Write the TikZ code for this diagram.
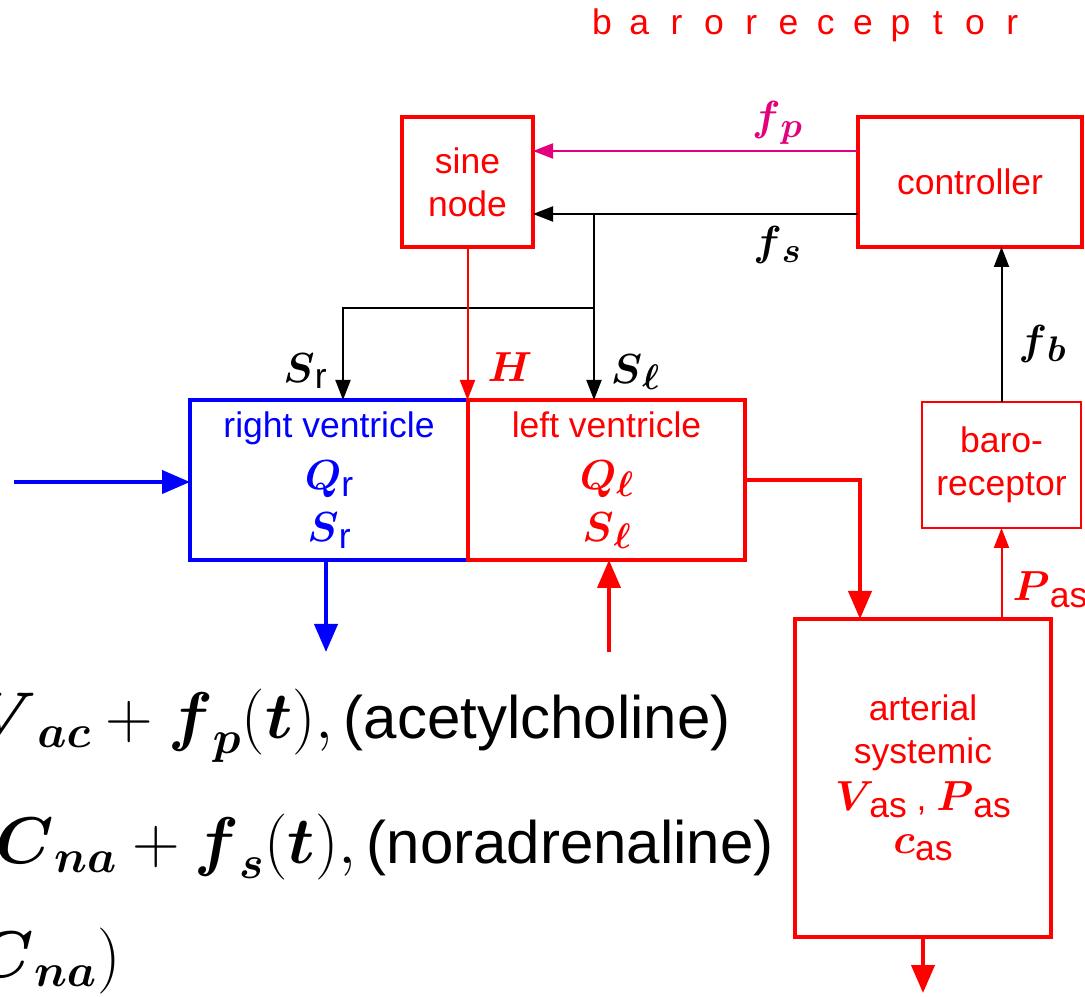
\RequirePackage{fix-cm}
\documentclass[tikz,border=0pt]{standalone}
\usepackage{amsmath}
\usepackage[no-math]{fontspec}
\setmainfont{Liberation Sans}
\usepackage{tikz}
\usetikzlibrary{arrows.meta,positioning}
\definecolor{oxy}{HTML}{FF0000}
\definecolor{venous}{HTML}{0000FF}
\definecolor{vagal}{HTML}{E4007C}
\newcommand{\labelfont}{\fontsize{17.75}{21.5}\selectfont}
\newcommand{\vsym}[2]{{\fontsize{21}{24}\selectfont$\boldsymbol{#1}$}\raisebox{-0.35ex}{#2}}
\newcommand{\eqmath}[1]{{\fontsize{33}{36}\selectfont$#1$}}
\tikzset{
  >={Triangle[length=10pt,width=7.5pt]},
  signal/.style={->,line width=1pt},
  flow/.style={-{Triangle[length=14pt,width=11.5pt]},line width=2pt},
  box/.style={draw=oxy,line width=2pt,text=oxy,inner sep=0pt,outer sep=0pt,
    align=center,font=\labelfont},
  thinbox/.style={box,line width=1pt},
  venbox/.style={box,draw=venous,text=venous},
  tag/.style={font=\labelfont},
  eqline/.style={inner sep=0pt,font=\fontsize{30}{34}\selectfont}
}

\begin{document}
\begin{tikzpicture}[x=0.5pt,y=0.5pt,node distance=0pt]
  \clip (0,0) rectangle (1085,996);
  \node[box,minimum width=65.5pt,minimum height=65pt] (sine) at (467.5,814) {sine\\node};
  \node[box,minimum width=112pt,minimum height=65pt] (ctrl) at (970,814) {controller};
  \node[venbox,minimum width=139pt,minimum height=80pt,font=\fontsize{17.75}{26}\selectfont] (rv) at (329,516)
    {right ventricle\\\vsym{Q}{r}\\\vsym{S}{r}};
  \node[box,minimum width=138.5pt,minimum height=80pt,font=\fontsize{17.75}{26}\selectfont,right=of rv] (lv)
    {left ventricle\\\vsym{Q}{$\boldsymbol{\ell}$}\\\vsym{S}{$\boldsymbol{\ell}$}};
  \node[thinbox,minimum width=79.5pt,minimum height=63pt] (baro) at (1001.5,531) {baro-\\receptor};
  \node[box,minimum width=128pt,minimum height=159pt] (art) at (923,218)
    {arterial\\systemic\\[2pt]\vsym{V}{\hspace{-2.5pt}as} , \vsym{P}{as}\\\vsym{c}{as}};

  \foreach \ch [count=\i] in {b,a,r,o,r,e,c,e,p,t,o,r}
    \node[tag,text=oxy,anchor=base,inner sep=0pt] (top\i) at ({602+37.3*(\i-1)},961) {\ch};

  \node[tag,text=vagal] (fplab) at (777,873) {\vsym{f}{$\boldsymbol{p}$}};
  \node[tag] (fslab) at (777,751) {\vsym{f}{$\boldsymbol{s}$}};
  \node[tag,text=oxy] (hlab) at (510,626) {\vsym{H}{}};
  \node[tag] (sllab) at (635,624) {\vsym{S}{$\boldsymbol{\ell}$}};
  \node[tag] (srlab) at (305,625) {\vsym{S}{r}};
  \node[tag] (fblab) at (1042,652) {\vsym{f}{$\boldsymbol{b}$}};
  \node[tag,text=oxy,inner sep=0pt] (paslab) at (1050,406) {\vsym{P}{as}};

  \coordinate (fork) at (594,782);
  \coordinate (split) at (594,688);
  \coordinate (venin) at (14,514);
  \coordinate (venout) at (326,344);
  \coordinate (pulmin) at (609,344);
  \coordinate (artout) at (923,3);

  \draw[signal,draw=vagal] ([yshift=15.5pt]ctrl.west) -- ([yshift=15.5pt]sine.east);
  \draw[signal] ([yshift=-16pt]ctrl.west) -- ([yshift=-16pt]sine.east);
  \draw[signal] (fork) -- (fork |- lv.north);
  \draw[signal] (split) -| ([xshift=7pt]rv.north);
  \draw[signal,draw=oxy] (sine.south) -- (sine.south |- lv.north);
  \draw[signal] (baro.north) -- (baro.north |- ctrl.south);
  \draw[signal,draw=oxy] (art.north -| baro.south) -- (baro.south);

  \draw[flow,draw=venous] (venin) -- (venin -| rv.west);
  \draw[flow,draw=venous] (venout |- rv.south) -- (venout);
  \draw[flow,draw=oxy] (pulmin) -- (pulmin |- lv.south);
  \draw[flow,draw=oxy] (lv.east) -| ([xshift=-31.5pt]art.north);
  \draw[flow,draw=oxy] (art.south) -- (artout);

  \node[eqline,anchor=base east] (acline) at (731,258)
    {\eqmath{\boldsymbol{V}_{\boldsymbol{ac}}+\boldsymbol{f}_{\boldsymbol{p}}(\boldsymbol{t}),}\,(acetylcholine)};
  \node[eqline,anchor=base east] (naline) at (774,133)
    {\eqmath{\boldsymbol{C}_{\boldsymbol{na}}+\boldsymbol{f}_{\boldsymbol{s}}(\boldsymbol{t}),}\,(noradrenaline)};
  \node[eqline,anchor=base east] (naend) at (121,19)
    {\eqmath{\boldsymbol{C}_{\boldsymbol{na}})}};
\end{tikzpicture}
\end{document}
